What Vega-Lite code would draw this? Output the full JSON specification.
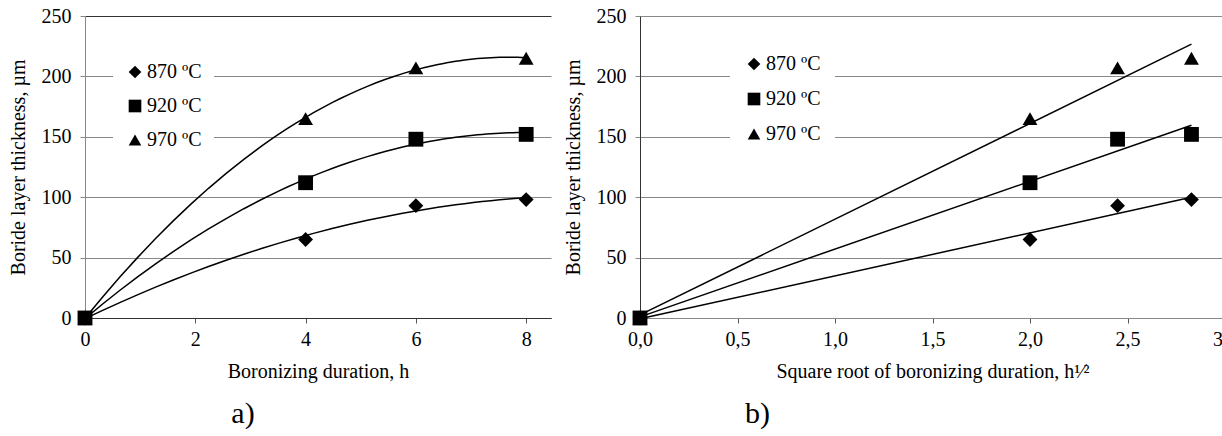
{
  "$schema": "https://vega.github.io/schema/vega-lite/v6.json",
  "padding": {"left": 8, "top": 6, "right": 0, "bottom": 0},
  "background": "white",
  "datasets": {
    "d": [
      {"t": 0, "st": 0, "y": 0, "temp": "870 ºC"},
      {"t": 4, "st": 2.0, "y": 65, "temp": "870 ºC"},
      {"t": 6, "st": 2.449, "y": 93, "temp": "870 ºC"},
      {"t": 8, "st": 2.828, "y": 98, "temp": "870 ºC"},
      {"t": 0, "st": 0, "y": 0, "temp": "920 ºC"},
      {"t": 4, "st": 2.0, "y": 112, "temp": "920 ºC"},
      {"t": 6, "st": 2.449, "y": 148, "temp": "920 ºC"},
      {"t": 8, "st": 2.828, "y": 152, "temp": "920 ºC"},
      {"t": 0, "st": 0, "y": 0, "temp": "970 ºC"},
      {"t": 4, "st": 2.0, "y": 165, "temp": "970 ºC"},
      {"t": 6, "st": 2.449, "y": 207, "temp": "970 ºC"},
      {"t": 8, "st": 2.828, "y": 215, "temp": "970 ºC"}
    ]
  },
  "data": {"name": "d"},
  "spacing": 12,
  "resolve": {"scale": {"shape": "independent", "x": "independent"}, "legend": {"shape": "independent"}},
  "hconcat": [
    {
      "width": 466,
      "height": 302,
      "title": {"text": "a)", "orient": "bottom", "anchor": "middle", "dx": -75, "offset": 18, "fontSize": 30, "fontWeight": "normal", "font": "Liberation Serif, Times New Roman, serif", "color": "#000"},
      "layer": [
        {
          "transform": [{"regression": "y", "on": "t", "groupby": ["temp"], "method": "poly", "order": 2}],
          "mark": {"type": "line", "color": "#000", "strokeWidth": 1.5},
          "encoding": {
            "x": {"field": "t", "type": "quantitative"},
            "y": {"field": "y", "type": "quantitative"},
            "detail": {"field": "temp"}
          }
        },
        {
          "mark": {"type": "point", "filled": true, "color": "#000", "size": 220, "opacity": 1},
          "encoding": {
            "x": {
              "field": "t", "type": "quantitative",
              "scale": {"domain": [0, 8.45], "nice": false, "zero": false},
              "axis": {"title": "Boronizing duration, h", "values": [0, 2, 4, 6, 8], "format": "d", "labelFlush": false, "grid": false, "domainColor": "#333", "ticks": true, "tickColor": "#555", "tickSize": 5, "labelPadding": 6, "titlePadding": 12}
            },
            "y": {
              "field": "y", "type": "quantitative",
              "scale": {"domain": [0, 250], "nice": false},
              "axis": {"title": "Boride layer thickness, µm", "values": [0, 50, 100, 150, 200, 250], "format": "d", "domainColor": "#888", "gridColor": {"condition": {"test": "datum.value == 250 || datum.value == 0", "value": "#333"}, "value": "#888"}, "tickColor": "#888", "tickSize": 5, "labelPadding": 9, "titlePadding": 13}
            },
            "shape": {
              "field": "temp", "type": "nominal",
              "scale": {"domain": ["870 ºC", "920 ºC", "970 ºC"], "range": ["diamond", "square", "triangle-up"]},
              "legend": {"title": null, "orient": "none", "legendX": 28, "legendY": 34, "padding": 12, "rowPadding": 14, "fillColor": "white", "symbolSize": 160, "symbolFillColor": "#000", "symbolStrokeColor": "#000", "labelFontSize": 20, "labelOffset": 2, "labelColor": "#000"}
            }
          }
        }
      ]
    },
    {
      "width": 585,
      "height": 302,
      "title": {"text": "b)", "orient": "bottom", "anchor": "middle", "dx": -175, "offset": 18, "fontSize": 30, "fontWeight": "normal", "font": "Liberation Serif, Times New Roman, serif", "color": "#000"},
      "layer": [
        {
          "transform": [{"regression": "y", "on": "st", "groupby": ["temp"], "method": "linear"}],
          "mark": {"type": "line", "color": "#000", "strokeWidth": 1.5},
          "encoding": {
            "x": {"field": "st", "type": "quantitative"},
            "y": {"field": "y", "type": "quantitative"},
            "detail": {"field": "temp"}
          }
        },
        {
          "mark": {"type": "point", "filled": true, "color": "#000", "size": 220, "opacity": 1},
          "encoding": {
            "x": {
              "field": "st", "type": "quantitative",
              "scale": {"domain": [0, 3], "nice": false, "zero": false},
              "axis": {"title": "Square root of boronizing duration, h¹⁄²", "values": [0, 0.5, 1, 1.5, 2, 2.5, 3], "labelExpr": "replace(format(datum.value, '.1f'), '.', ',')", "labelFlush": false, "grid": false, "domainColor": "#888", "tickColor": "#555", "tickSize": 5, "labelPadding": 6, "titlePadding": 12}
            },
            "y": {
              "field": "y", "type": "quantitative",
              "scale": {"domain": [0, 250], "nice": false},
              "axis": {"title": "Boride layer thickness, µm", "values": [0, 50, 100, 150, 200, 250], "format": "d", "domainColor": "#333", "gridColor": "#888", "tickColor": "#888", "tickSize": 5, "labelPadding": 9, "titlePadding": 13}
            },
            "shape": {
              "field": "temp", "type": "nominal",
              "scale": {"domain": ["870 ºC", "920 ºC", "970 ºC"], "range": ["diamond", "square", "triangle-up"]},
              "legend": {"title": null, "orient": "none", "legendX": 90, "legendY": 24, "padding": 14, "rowPadding": 15, "fillColor": "white", "symbolSize": 160, "symbolFillColor": "#000", "symbolStrokeColor": "#000", "labelFontSize": 20, "labelOffset": 2, "labelColor": "#000"}
            }
          }
        }
      ]
    }
  ],
  "config": {
    "font": "Liberation Serif, Times New Roman, serif",
    "view": {"stroke": null},
    "axis": {"labelFontSize": 20, "titleFontSize": 20, "titleFontWeight": "normal", "labelColor": "#000", "titleColor": "#000", "labelFont": "Liberation Serif, Times New Roman, serif", "titleFont": "Liberation Serif, Times New Roman, serif"},
    "legend": {"labelFont": "Liberation Serif, Times New Roman, serif"}
  }
}
